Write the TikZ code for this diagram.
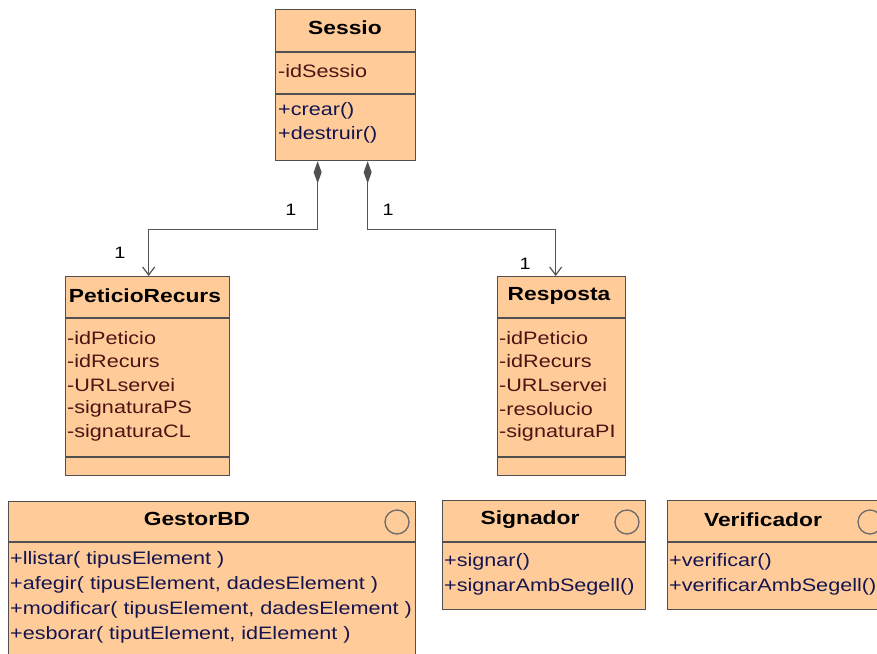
\documentclass[tikz,border=0pt]{standalone}
\usepackage{fontspec}
\setmainfont[FakeStretch=1.2]{Liberation Sans}
\usetikzlibrary{arrows.meta,calc}

\definecolor{peach}{RGB}{255,204,153}
\definecolor{boxline}{RGB}{80,80,80}
\definecolor{attrcol}{RGB}{75,20,20}
\definecolor{opcol}{RGB}{20,20,80}
\definecolor{wire}{RGB}{85,85,85}

\tikzset{
  classbox/.style={draw=boxline, fill=peach, line width=1.3pt, inner sep=0pt,
                   anchor=north west, rectangle},
  sep/.style={draw=boxline, line width=1.3pt},
  title/.style={font=\fontsize{19}{22}\selectfont\bfseries, text=black, inner sep=0pt},
  attr/.style={font=\fontsize{18}{21}\selectfont, text=attrcol, anchor=west, inner sep=0pt},
  oper/.style={font=\fontsize{18}{21}\selectfont, text=opcol, anchor=west, inner sep=0pt},
  ifacemark/.style={draw=boxline!85, line width=1.3pt, circle, minimum size=24pt, inner sep=0pt},
  mult/.style={font=\fontsize{16.5}{19}\selectfont, text=black, inner sep=0pt},
  composition/.style={draw=wire, line width=1.2pt,
     {Diamond[length=22pt,width=8pt,fill=boxline,color=boxline]}-{Straight Barb[length=8pt,width=12pt,line width=1.2pt]}},
}

\begin{document}
\begin{tikzpicture}[x=1pt,y=-1pt]
\useasboundingbox (0,0) rectangle (877,653);
\clip (0,0) rectangle (877,653);

% ---- Sessio ----
\node[classbox, minimum width=140pt, minimum height=151pt] (sessio) at (275,9) {};
\draw[sep] (275,52) -- (415,52);
\draw[sep] (275,94) -- (415,94);
\node[title] (sessioT) at (345,28) {Sessio};
\node[attr] (sessioA1) at (278,71) {-idSessio};
\node[oper] (sessioO1) at (278,111) {+crear()};
\node[oper] (sessioO2) at (278,135) {+destruir()};

% ---- PeticioRecurs ----
\node[classbox, minimum width=164pt, minimum height=199pt] (peticio) at (65,276) {};
\draw[sep] (65,318) -- (229,318);
\draw[sep] (65,457) -- (229,457);
\node[title] (peticioT) at (145,296) {PeticioRecurs};
\node[attr] (peticioA1) at (67,338) {-idPeticio};
\node[attr] (peticioA2) at (67,361) {-idRecurs};
\node[attr] (peticioA3) at (67,385) {-URLservei};
\node[attr] (peticioA4) at (67,409) {-signaturaPS};
\node[attr] (peticioA5) at (67,433) {-signaturaCL};

% ---- Resposta ----
\node[classbox, minimum width=128pt, minimum height=199pt] (resposta) at (497,276) {};
\draw[sep] (497,318) -- (625,318);
\draw[sep] (497,457) -- (625,457);
\node[title] (respostaT) at (559,296) {Resposta};
\node[attr] (respostaA1) at (499,338) {-idPeticio};
\node[attr] (respostaA2) at (499,361) {-idRecurs};
\node[attr] (respostaA3) at (499,385) {-URLservei};
\node[attr] (respostaA4) at (499,409) {-resolucio};
\node[attr] (respostaA5) at (499,433) {-signaturaPI};

% ---- GestorBD (interface) ----
\node[classbox, minimum width=407pt, minimum height=170pt] (gestor) at (8,501) {};
\draw[sep] (8,542) -- (415,542);
\node[title] (gestorT) at (197,519) {GestorBD};
\node[ifacemark] (gestorI) at (397,522) {};
\node[oper] (gestorO1) at (10,560) {+llistar( tipusElement )};
\node[oper] (gestorO2) at (10,585) {+afegir( tipusElement, dadesElement )};
\node[oper] (gestorO3) at (10,610) {+modificar( tipusElement, dadesElement )};
\node[oper] (gestorO4) at (10,635) {+esborar( tiputElement, idElement )};

% ---- Signador (interface) ----
\node[classbox, minimum width=203pt, minimum height=109pt] (signador) at (442,500) {};
\draw[sep] (442,542) -- (645,542);
\node[title] (signadorT) at (530,520) {Signador};
\node[ifacemark] (signadorI) at (627,522) {};
\node[oper] (signadorO1) at (444,562) {+signar()};
\node[oper] (signadorO2) at (444,587) {+signarAmbSegell()};

% ---- Verificador (interface) ----
\node[classbox, minimum width=225pt, minimum height=109pt] (verificador) at (667,500) {};
\draw[sep] (667,542) -- (892,542);
\node[title] (verificadorT) at (763,520) {Verificador};
\node[ifacemark] (verificadorI) at (870,522) {};
\node[oper] (verificadorO1) at (669,562) {+verificar()};
\node[oper] (verificadorO2) at (669,587) {+verificarAmbSegell()};

% ---- compositions ----
\draw[composition] ($(sessio.south)+(-28,0)$) -- ++(0,68) -| ($(peticio.north)+(1,0)$);
\draw[composition] ($(sessio.south)+(22,0)$) -- ++(0,68) -| ($(resposta.north)+(-6,0)$);

% multiplicities
\node[mult] (m1) at (291,210) {1};
\node[mult] (m2) at (120,253) {1};
\node[mult] (m3) at (388,210) {1};
\node[mult] (m4) at (525,264) {1};
\end{tikzpicture}
\end{document}
